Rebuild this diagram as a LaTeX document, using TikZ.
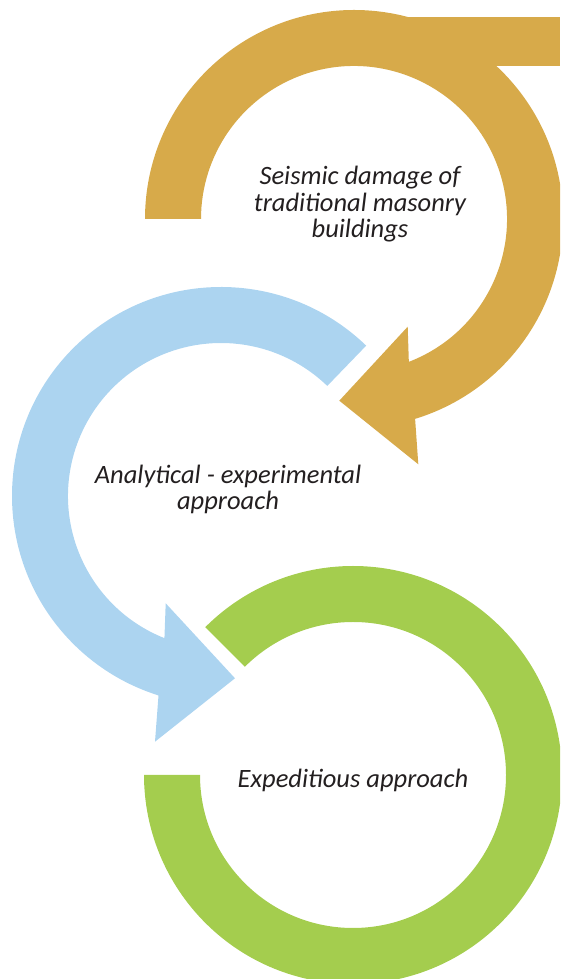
\documentclass[tikz,border=0pt]{standalone}
\usepackage{fontspec}
\setmainfont{Carlito}
\usetikzlibrary{calc, positioning}
\definecolor{arcgold}{HTML}{D7AA4A}
\definecolor{arcblue}{HTML}{ACD4F0}
\definecolor{arcgreen}{HTML}{A4CD4E}
\definecolor{captiontext}{HTML}{231F20}
\newcommand{\ringout}{209}
\newcommand{\ringin}{153}
\tikzstyle{caption} = [align=center, inner sep=0pt, text=captiontext, font=\fontsize{26.5}{26.7}\selectfont\itshape]

\begin{document}
\begin{tikzpicture}[x=1pt, y=1pt]
	\useasboundingbox (0,0) rectangle (560,979);
	\clip (0,0) rectangle (560,979);
	\coordinate (damage) at (354,760);
	\coordinate (analysis) at (221,483);
	\coordinate (expedite) at (353,204);
	% gold arrow with its tail running off to the right
	\fill[arcgold] (385,913) rectangle (560,962);
	\fill[arcgold] ($(damage)+(180:\ringout)$) arc[start angle=180, end angle=-73, radius=\ringout]
		-- (418.3,514.7) -- (339.3,578.3) -- (407.7,652.3)
		-- ($(damage)+(-69:\ringin)$) arc[start angle=-69, end angle=180, radius=\ringin] -- cycle;
	% blue arrow
	\fill[arcblue] ($(analysis)+(46:\ringout)$) arc[start angle=46, end angle=252.6, radius=\ringout]
		-- (155,237.3) -- (235,300.7) -- (165.7,375.7)
		-- ($(analysis)+(248.3:\ringin)$) arc[start angle=248.3, end angle=46, radius=\ringin] -- cycle;
	% green ring
	\fill[arcgreen] ($(expedite)+(135:\ringout)$) arc[start angle=135, end angle=-180, radius=\ringout]
		-- ($(expedite)+(180:\ringin)$) arc[start angle=-180, end angle=135, radius=\ringin] -- cycle;
	% base anchor sits on the last line
	\node[caption, anchor=base] (damagetext) at (360,741) {Seismic damage of\\traditional masonry\\buildings};
	\node[caption, anchor=base] (analysistext) at (228,469) {Analytical - experimental\\approach};
	\node[caption, anchor=base] (expeditetext) at (353,191) {Expeditious approach};
\end{tikzpicture}
\end{document}
